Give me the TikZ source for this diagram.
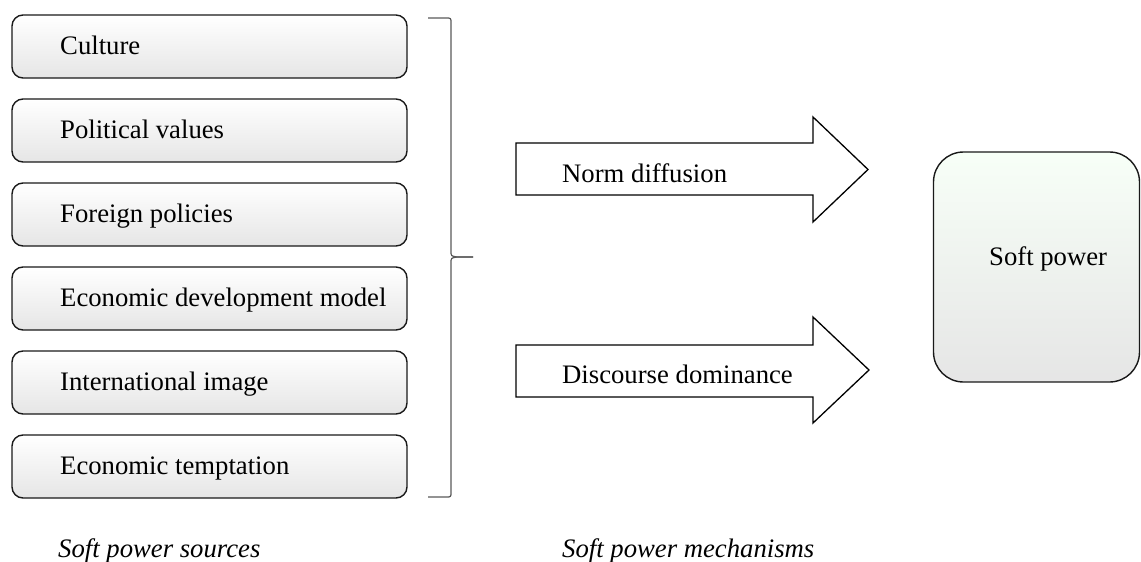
\documentclass[tikz,border=0pt]{standalone}
\usepackage{fontspec}
\setmainfont{Liberation Serif}
\begin{document}
\begin{tikzpicture}[x=1pt,y=-1pt,
  srcbox/.style={draw=black!90, line width=1.4pt, rounded corners=11pt,
    minimum width=395pt, minimum height=63pt, inner sep=0pt,
    top color=white, bottom color=black!10},
  lbl/.style={anchor=base west, inner sep=0pt, font=\fontsize{26.7}{30}\selectfont},
  ilbl/.style={anchor=base west, inner sep=0pt, font=\fontsize{26.7}{30}\selectfont\itshape},
  arrowshape/.style={draw=black, line width=1.3pt, fill=white, line join=miter},
  bracestyle/.style={draw=black!65, line width=1.2pt}
]
\useasboundingbox (0,0) rectangle (1141,562);

% source boxes
\foreach \i/\t in {0/Culture,1/Political values,2/Foreign policies,3/Economic development model,4/International image,5/Economic temptation}{
  \node[srcbox] (b\i) at (209.5,{46.5+84*\i}) {};
  \node[lbl] (t\i) at (60,{54+84*\i}) {\t};
}

% brace
\coordinate (brtop) at (428,18);
\coordinate (brtip) at (473,257);
\coordinate (brbot) at (428,497);
\draw[bracestyle] (brtop) -- (446,18) .. controls (451,18) .. (451,23) -- (451,251)
  .. controls (451,256) .. (457,257) -- (brtip);
\draw[bracestyle] (brtip) -- (457,257) .. controls (451,258) .. (451,263) -- (451,492)
  .. controls (451,497) .. (446,497) -- (brbot);

% arrows
\draw[arrowshape] (516,143) -- (813,143) -- (813,117) -- (868,169.5) -- (813,222) -- (813,195) -- (516,195) -- cycle;
\node[lbl] (nd) at (562,182) {Norm diffusion};
\draw[arrowshape] (516,345) -- (813,345) -- (813,317) -- (869,370) -- (813,423) -- (813,397) -- (516,397) -- cycle;
\node[lbl] (dd) at (562,383) {Discourse dominance};

% soft power
\node[draw=black!90, line width=1.4pt, rounded corners=30pt, minimum width=206pt, minimum height=230pt,
  inner sep=0pt, top color=green!3!white, bottom color=black!10] (sp) at (1036.5,267) {};
\node[lbl] (spt) at (989,265) {Soft power};

% captions
\node[ilbl] (cap1) at (58,557) {Soft power sources};
\node[ilbl] (cap2) at (562,557) {Soft power mechanisms};
\end{tikzpicture}
\end{document}
